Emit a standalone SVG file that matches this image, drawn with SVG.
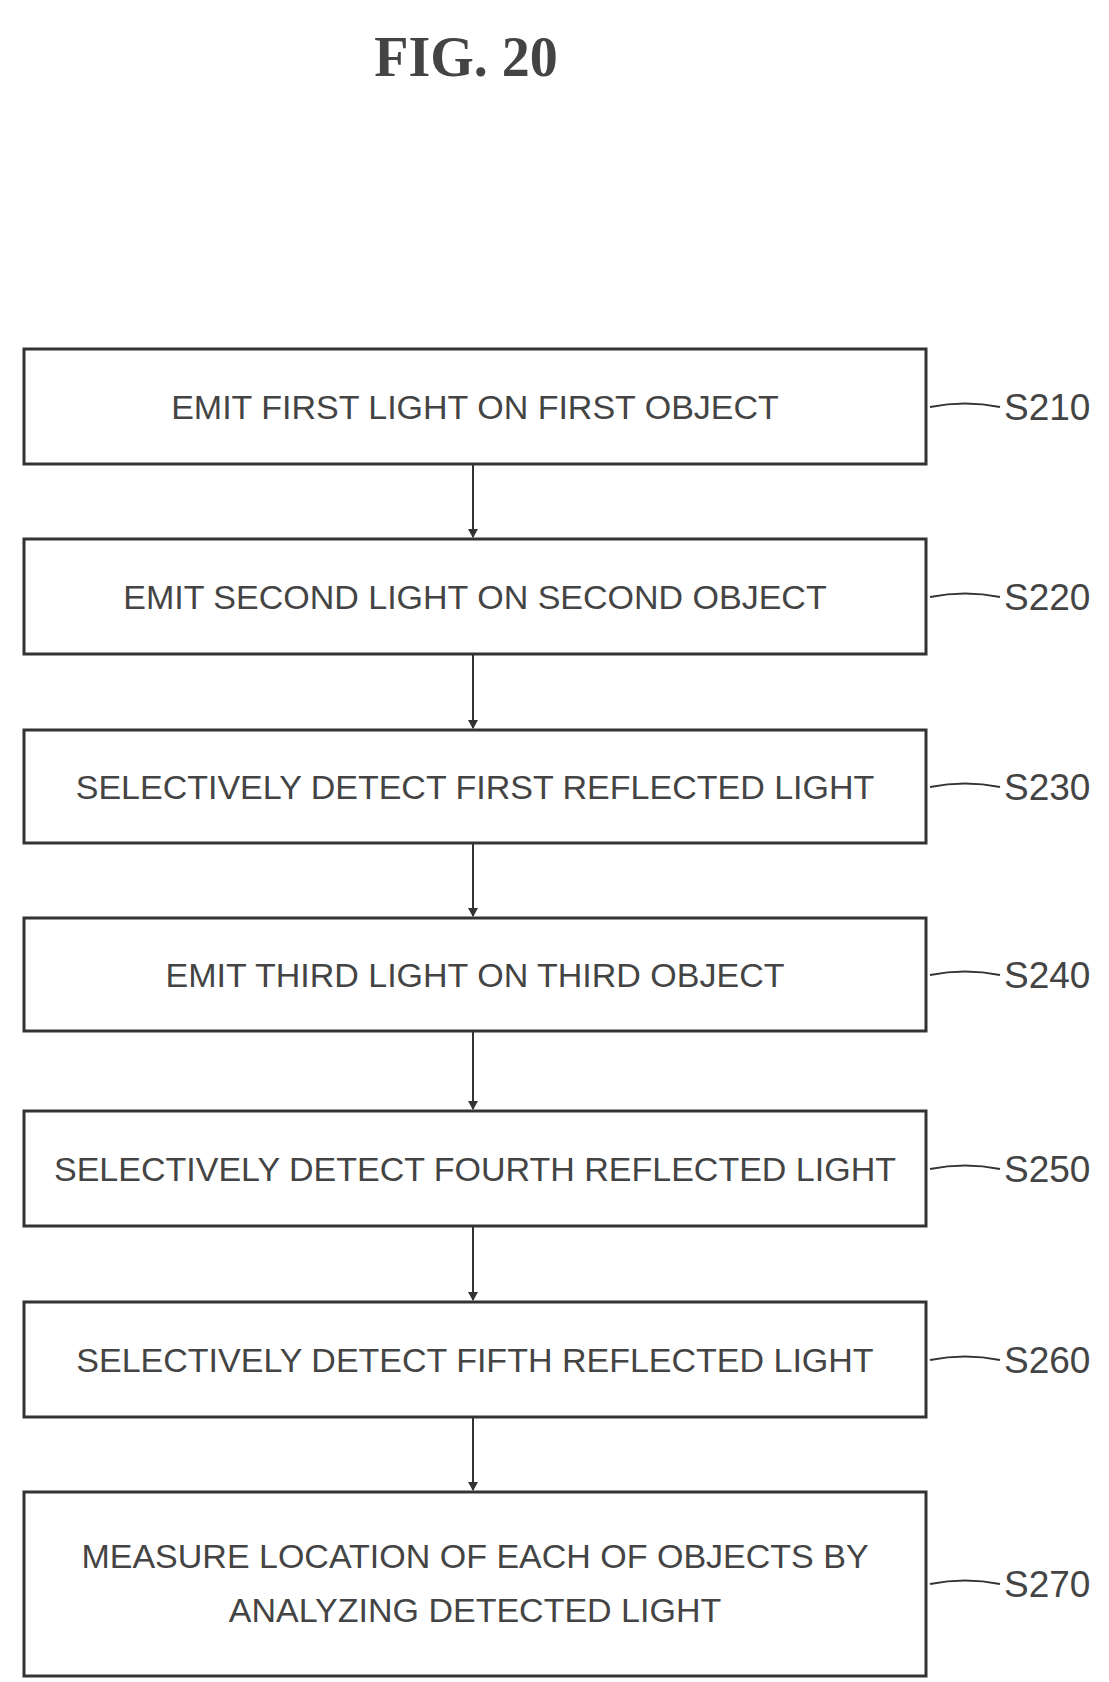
<svg xmlns="http://www.w3.org/2000/svg" width="1109" height="1682" viewBox="0 0 1109 1682">
<defs>
<marker id="ah" markerWidth="10" markerHeight="10" refX="8" refY="5" orient="auto" markerUnits="userSpaceOnUse"><path d="M0,0 L9,5 L0,10 Z" fill="#333"/></marker>
</defs>
<style>
.box{fill:#fff;stroke:#333;stroke-width:3}
.t{font-family:"Liberation Sans",Arial,sans-serif;font-size:34px;fill:#444;text-anchor:middle}
.lb{font-family:"Liberation Sans",Arial,sans-serif;font-size:37px;fill:#444}
.ln{stroke:#333;stroke-width:2;fill:none}
</style>
<rect width="1109" height="1682" fill="#fff"/>
<text x="466" y="76" font-family="Liberation Serif,serif" font-weight="bold" font-size="56" text-anchor="middle" fill="#444">FIG. 20</text>
<g id="connectors">
<line class="ln" x1="473" y1="464" x2="473" y2="537" marker-end="url(#ah)"/>
<line class="ln" x1="473" y1="654" x2="473" y2="728" marker-end="url(#ah)"/>
<line class="ln" x1="473" y1="843" x2="473" y2="916" marker-end="url(#ah)"/>
<line class="ln" x1="473" y1="1031" x2="473" y2="1109" marker-end="url(#ah)"/>
<line class="ln" x1="473" y1="1226" x2="473" y2="1300" marker-end="url(#ah)"/>
<line class="ln" x1="473" y1="1417" x2="473" y2="1490" marker-end="url(#ah)"/>
<path class="ln" d="M930,407 Q965,400 1000,407"/>
<path class="ln" d="M930,597 Q965,590 1000,597"/>
<path class="ln" d="M930,787 Q965,780 1000,787"/>
<path class="ln" d="M930,975 Q965,968 1000,975"/>
<path class="ln" d="M930,1169 Q965,1162 1000,1169"/>
<path class="ln" d="M930,1360 Q965,1353 1000,1360"/>
<path class="ln" d="M930,1584 Q965,1577 1000,1584"/>
</g>
<g id="S210"><rect class="box" x="24" y="349" width="902" height="115"/><text class="t" x="475" y="419">EMIT FIRST LIGHT ON FIRST OBJECT</text><text class="lb" x="1004" y="420">S210</text></g>
<g id="S220"><rect class="box" x="24" y="539" width="902" height="115"/><text class="t" x="475" y="609">EMIT SECOND LIGHT ON SECOND OBJECT</text><text class="lb" x="1004" y="610">S220</text></g>
<g id="S230"><rect class="box" x="24" y="730" width="902" height="113"/><text class="t" x="475" y="799">SELECTIVELY DETECT FIRST REFLECTED LIGHT</text><text class="lb" x="1004" y="800">S230</text></g>
<g id="S240"><rect class="box" x="24" y="918" width="902" height="113"/><text class="t" x="475" y="987">EMIT THIRD LIGHT ON THIRD OBJECT</text><text class="lb" x="1004" y="988">S240</text></g>
<g id="S250"><rect class="box" x="24" y="1111" width="902" height="115"/><text class="t" x="475" y="1181">SELECTIVELY DETECT FOURTH REFLECTED LIGHT</text><text class="lb" x="1004" y="1182">S250</text></g>
<g id="S260"><rect class="box" x="24" y="1302" width="902" height="115"/><text class="t" x="475" y="1372">SELECTIVELY DETECT FIFTH REFLECTED LIGHT</text><text class="lb" x="1004" y="1373">S260</text></g>
<g id="S270"><rect class="box" x="24" y="1492" width="902" height="184"/><text class="t" x="475" y="1568">MEASURE LOCATION OF EACH OF OBJECTS BY</text><text class="t" x="475" y="1622">ANALYZING DETECTED LIGHT</text><text class="lb" x="1004" y="1597">S270</text></g>
</svg>
